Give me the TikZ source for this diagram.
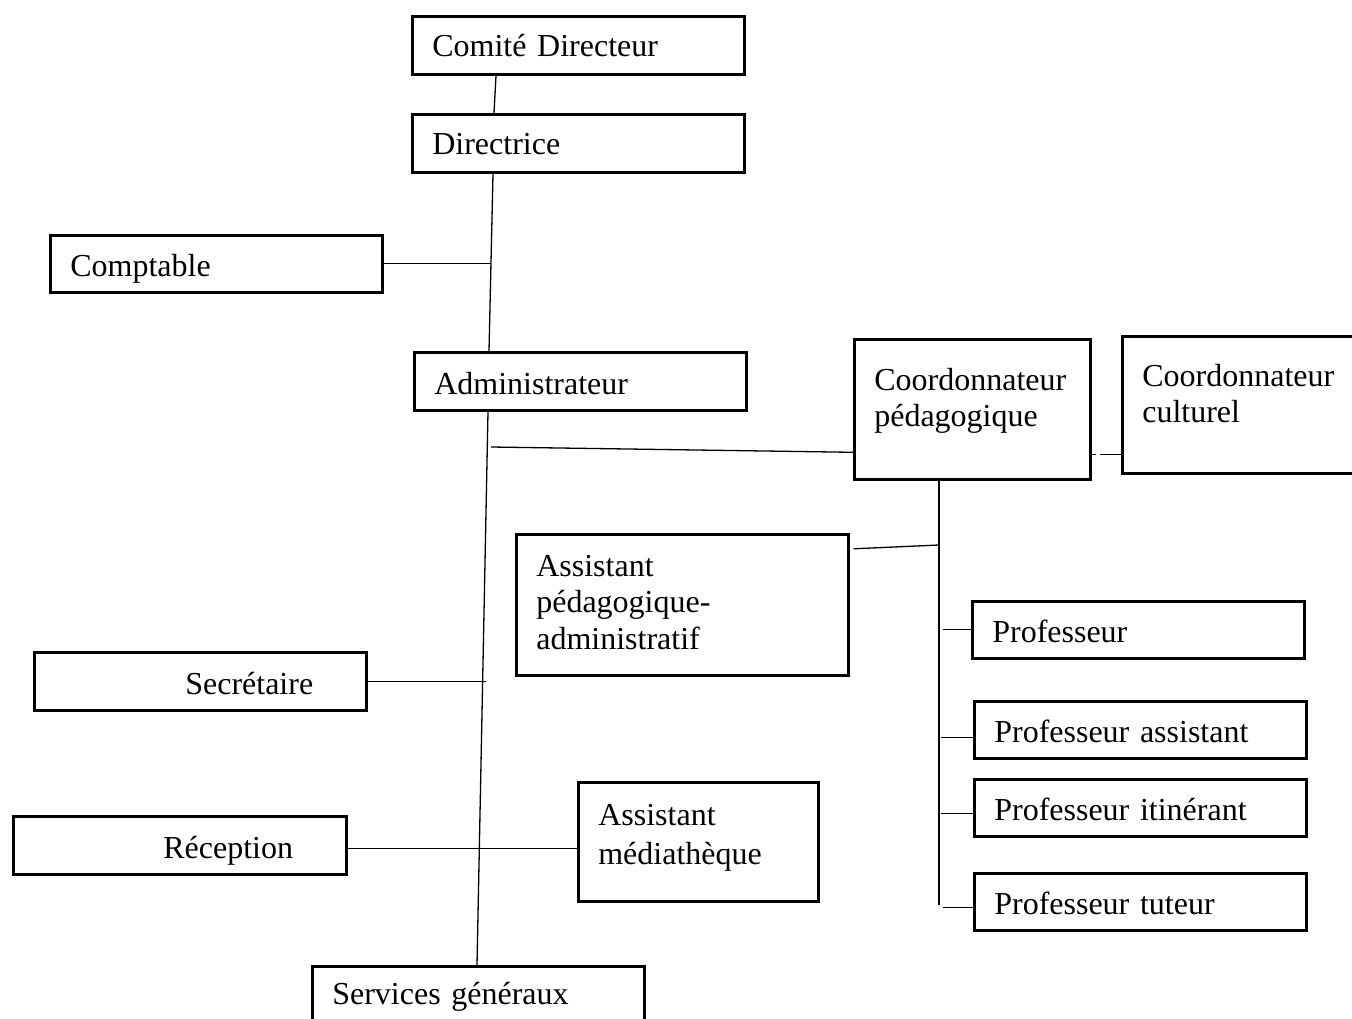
\documentclass[tikz,border=0pt]{standalone}
\usepackage{fontspec}
\setmainfont{Liberation Serif}
\begin{document}
\begin{tikzpicture}[x=1pt,y=-1pt,
  box/.style={draw, line width=2.6pt, inner xsep=20pt, inner ysep=0pt, align=left,
    anchor=north west, font=\fontsize{32}{36.5}\selectfont},
  conn/.style={line width=1.3pt}]
\clip (0,0) rectangle (1352,1019);
\fill[white] (0,0) rectangle (1352,1019);

% boxes
\node[box, text width=292pt, text height=40pt, text depth=18pt] (cd) at (411,15) {Comité Directeur};
\node[box, text width=292pt, text height=40pt, text depth=18pt] (dir) at (411,113) {Directrice};
\node[box, text width=292pt, text height=41pt, text depth=16pt] (comp) at (49,234) {Comptable};
\node[box, text width=292pt, text height=42pt, text depth=16pt] (adm) at (413,351) {Administrateur};
\node[box, text width=196pt, text height=51pt, text depth=89pt] (cp) at (853,338) {Coordonnateur\\pédagogique};
\node[box, text width=200pt, text height=50pt, text depth=87pt] (cc) at (1121,335) {Coordonnateur\\culturel};
\node[box, text width=292pt, text height=42pt, text depth=99pt] (apa) at (515,533) {Assistant\\pédagogique-\\administratif};
\node[box, text width=292pt, text height=41pt, text depth=16pt] (prof) at (971,600) {Professeur};
\node[box, text width=292pt, text height=41pt, text depth=16pt] (pas) at (973,700) {Professeur assistant};
\node[box, text width=292pt, text height=41pt, text depth=16pt] (pit) at (973,778) {Professeur itinérant};
\node[box, text width=292pt, text height=41pt, text depth=16pt] (ptut) at (973,872) {Professeur tuteur};
\node[box, text width=292pt, text height=42pt, text depth=16pt] (sec) at (33,651) {\hspace*{131pt}Secrétaire};
\node[box, text width=293pt, text height=42pt, text depth=16pt] (rec) at (12,815) {\hspace*{130pt}Réception};
\node[box, text width=200pt, text height=43pt, text depth=76pt] (med) at (577,781) {Assistant\\[2.5pt]médiathèque};
\node[box, text width=292pt, text height=38pt, text depth=32pt] (sg) at (311,965) {Services généraux};

% junctions
\coordinate (jc) at (491,262);
\coordinate (jp) at (491,447);
\coordinate (js) at (486,683);
\coordinate (ja) at (939,545);
\coordinate (jb) at (939,905);

% connectors
\draw[conn] ([xshift=85pt]cd.south west) -- ([xshift=83pt]dir.north west);
\draw[conn] ([xshift=82pt]dir.south west) -- ([xshift=76pt]adm.north west);
\draw[conn] (comp.east) -- (comp.east -| jc);
\draw[conn] ([xshift=75pt]adm.south west) -- ([xshift=166pt]sg.north west);
\draw[conn] (jp) -- ([yshift=-43pt]cp.west);
\draw[conn] (sec.east) -- (sec.east -| js);
\draw[conn] ([yshift=-3pt]rec.east) -- ([yshift=-3pt]rec.east -| med.west);
\draw[conn] ([yshift=-45pt]cp.east) -- ++(4,0) ++(4,0) -- ([yshift=-45pt]cp.east -| cc.west);
\draw[conn] (cp.south -| jb) -- (jb);
\draw[conn] ([xshift=4pt,yshift=56pt]apa.east) -- (ja);
\draw[conn] ([xshift=-28pt]prof.west) -- (prof.west);
\draw[conn] ([xshift=-32pt,yshift=-8pt]pas.west) -- ([yshift=-8pt]pas.west);
\draw[conn] ([xshift=-32pt,yshift=-6pt]pit.west) -- ([yshift=-6pt]pit.west);
\draw[conn] ([xshift=-30pt,yshift=-6pt]ptut.west) -- ([yshift=-6pt]ptut.west);
\end{tikzpicture}
\end{document}
